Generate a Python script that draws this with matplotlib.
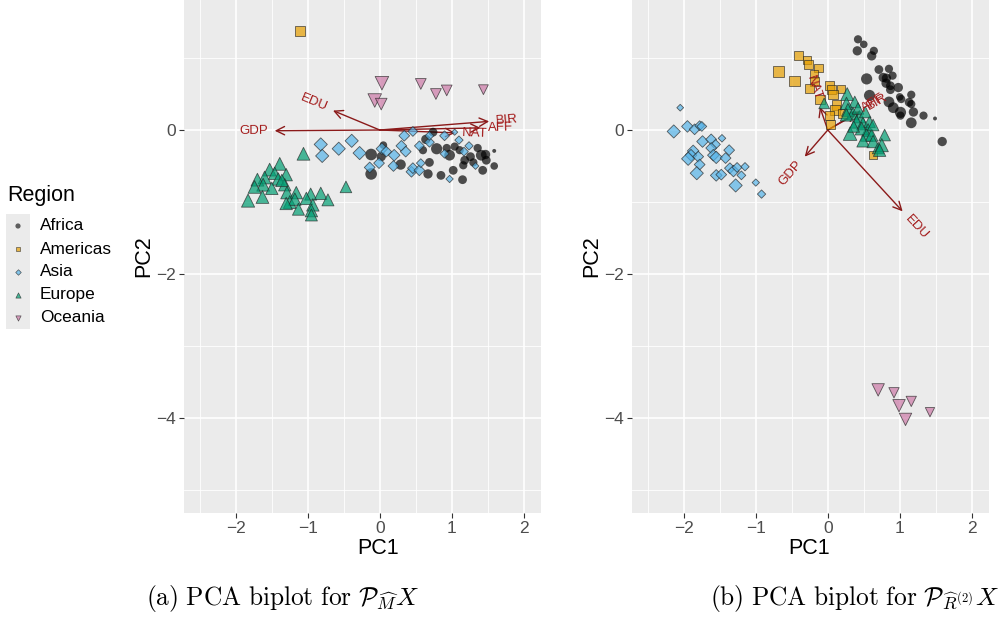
import numpy as np
import matplotlib
matplotlib.use("Agg")
import matplotlib.pyplot as plt
from matplotlib.patches import Rectangle

plt.rcParams["font.family"] = ["Liberation Sans", "DejaVu Sans"]
plt.rcParams["mathtext.fontset"] = "cm"

# ---------------------------------------------------------------- data
REGIONS = ["Africa", "Americas", "Asia", "Europe", "Oceania"]
MARKERS = ["o", "s", "D", "^", "v"]
COLORS = ["#000000", "#E69F00", "#56B4E9", "#009E73", "#CC79A7"]
VARIABLES = ["GDP", "EDU", "BIR", "AFF", "NAT"]

# panel (a): scores
a_africa_x = [-0.12, -0.12, 0.02, 0.05, 0.29, 0.60, 0.64, 0.69, 0.74, 0.79, 0.93, 0.97, 1.04, 0.67, 0.85,
              1.02, 1.11, 1.15, 1.16, 1.18, 1.26, 1.30, 1.36, 1.41, 1.43, 1.47, 1.48, 1.59, 1.59]
a_africa_y = [-0.34, -0.61, -0.37, -0.21, -0.48, -0.28, -0.13, -0.45, -0.03, -0.26, -0.25, -0.35, -0.23, -0.61, -0.63,
              -0.56, -0.28, -0.69, -0.49, -0.42, -0.37, -0.45, -0.25, -0.35, -0.56, -0.34, -0.42, -0.50, -0.29]
a_africa_s = [70, 70, 45, 30, 55, 35, 45, 40, 40, 65, 35, 60, 35, 45, 40,
              40, 35, 40, 35, 40, 40, 35, 35, 60, 40, 45, 40, 30, 8]

a_americas_x = [-1.11]
a_americas_y = [1.375]
a_americas_s = [50]

a_asia_x = [-0.82, -0.80, -0.57, -0.39, -0.28, -0.14, -0.01, 0.03, 0.09, 0.19, 0.20, 0.30, 0.34, 0.36, 0.44,
            0.46, 0.46, 0.55, 0.55, 0.57, 0.69, 0.69, 0.90, 0.90, 0.97, 1.04, 1.10, 1.17, 1.24, 1.33]
a_asia_y = [-0.20, -0.36, -0.26, -0.15, -0.32, -0.52, -0.46, -0.26, -0.30, -0.50, -0.35, -0.22, -0.08, -0.30, -0.58,
            -0.02, -0.53, -0.22, -0.56, -0.46, -0.17, -0.08, -0.08, -0.33, -0.68, -0.03, -0.14, -0.30, -0.22, -0.50]
a_asia_s = [45, 45, 45, 45, 45, 30, 30, 35, 30, 30, 35, 30, 30, 30, 30,
            25, 30, 25, 30, 20, 25, 20, 25, 20, 14, 10, 18, 20, 18, 12]

a_europe_x = [-1.06, -0.47, -1.39, -1.53, -1.46, -1.30, -1.60, -1.70, -1.41, -1.62, -1.74, -1.50, -1.32, -1.63, -1.83,
              -1.29, -1.16, -0.96, -0.82, -1.02, -0.72, -1.25, -1.18, -1.30, -0.93, -1.13, -0.95, -0.95, -1.36]
a_europe_y = [-0.33, -0.79, -0.47, -0.55, -0.60, -0.62, -0.66, -0.69, -0.68, -0.76, -0.79, -0.81, -0.76, -0.93, -0.98,
              -0.87, -0.87, -0.89, -0.88, -0.95, -0.97, -1.00, -0.96, -1.02, -1.04, -1.10, -1.12, -1.18, -0.70]
a_europe_s = [85, 70, 85, 85, 80, 80, 85, 85, 80, 85, 85, 80, 80, 85, 90,
              80, 80, 75, 80, 80, 75, 85, 80, 80, 80, 75, 80, 75, 80]

a_oceania_x = [0.03, 0.57, 0.78, 0.93, 1.44, -0.07, 0.02]
a_oceania_y = [0.65, 0.64, 0.50, 0.55, 0.56, 0.41, 0.36]
a_oceania_s = [95, 60, 60, 60, 50, 95, 70]

# panel (a): loadings
a_load_x = [-1.46, -0.65, 1.52, 1.40, 1.05]
a_load_y = [-0.01, 0.27, 0.12, 0.03, -0.04]

# panel (b): scores
b_africa_x = [0.42, 0.50, 0.41, 0.64, 0.61, 0.71, 0.85, 0.54, 0.77, 0.815, 0.90, 0.81, 0.87, 0.98, 0.87,
              1.16, 1.00, 0.58, 1.02, 1.13, 0.85, 1.16, 0.91, 1.01, 1.19, 1.01, 1.33, 1.49, 1.16, 1.59]
b_africa_y = [1.26, 1.19, 1.10, 1.10, 1.03, 0.84, 0.85, 0.71, 0.73, 0.72, 0.755, 0.65, 0.615, 0.59, 0.56,
              0.49, 0.46, 0.48, 0.43, 0.385, 0.39, 0.36, 0.31, 0.245, 0.25, 0.20, 0.20, 0.16, 0.10, -0.16]
b_africa_s = [35, 30, 45, 35, 45, 40, 35, 65, 45, 45, 35, 45, 40, 45, 40,
              35, 30, 65, 35, 40, 60, 35, 60, 65, 45, 35, 35, 8, 60, 45]

b_americas_x = [-0.41, -0.29, -0.27, -0.125, -0.69, -0.46, -0.19, -0.18, -0.25, 0.03,
                0.05, 0.18, -0.11, 0.07, 0.12, 0.10, 0.20, 0.02, 0.04, 0.63]
b_americas_y = [1.03, 0.97, 0.91, 0.86, 0.81, 0.68, 0.78, 0.67, 0.58, 0.615,
                0.56, 0.565, 0.42, 0.49, 0.35, 0.28, 0.23, 0.20, 0.08, -0.35]
b_americas_s = [42, 38, 38, 38, 62, 58, 38, 42, 42, 42,
                42, 34, 46, 46, 46, 46, 42, 46, 46, 38]

b_asia_x = [-2.05, -2.14, -1.95, -1.85, -1.78, -1.75, -1.74, -1.62, -1.47, -1.56, -1.62, -1.37, -1.87, -1.90, -1.94,
            -1.80, -1.59, -1.55, -1.42, -1.78, -1.82, -1.36, -1.31, -1.26, -1.15, -1.55, -1.48, -1.20, -1.28, -1.00, -0.92]
b_asia_y = [0.31, -0.02, 0.05, 0.01, 0.06, 0.05, -0.16, -0.13, -0.115, -0.20, -0.25, -0.28, -0.29, -0.35, -0.40,
            -0.37, -0.35, -0.38, -0.39, -0.48, -0.60, -0.53, -0.57, -0.52, -0.51, -0.63, -0.62, -0.63, -0.77, -0.73, -0.89]
b_asia_s = [12, 45, 35, 30, 25, 25, 35, 30, 15, 25, 30, 30, 35, 35, 45,
            30, 35, 40, 30, 30, 45, 30, 35, 25, 18, 35, 30, 20, 45, 14, 18]

b_europe_x = [0.27, 0.375, 0.26, -0.05, 0.28, 0.35, 0.26, 0.44, 0.40, 0.49, 0.58, 0.56, 0.47,
              0.31, 0.54, 0.61, 0.49, 0.63, 0.70, 0.79, 0.75, 0.72, 0.63, 0.42, 0.52, 0.36]
b_europe_y = [0.50, 0.39, 0.37, 0.37, 0.28, 0.23, 0.21, 0.185, 0.115, 0.09, 0.115, 0.0, 0.02,
              -0.05, -0.07, -0.07, -0.15, -0.16, -0.25, -0.07, -0.21, -0.28, 0.07, 0.30, 0.25, 0.05]
b_europe_s = [85, 70, 80, 60, 85, 80, 80, 80, 85, 85, 70, 85, 85,
              95, 80, 80, 80, 80, 70, 70, 90, 80, 70, 70, 70, 70]

b_oceania_x = [0.70, 0.92, 1.16, 0.99, 1.08, 1.42]
b_oceania_y = [-3.61, -3.65, -3.77, -3.83, -4.02, -3.92]
b_oceania_s = [80, 55, 55, 80, 80, 45]

# panel (b): loadings
b_load_x = [-0.32, 1.04, 0.46, 0.40, -0.11]
b_load_y = [-0.37, -1.13, 0.26, 0.24, 0.32]

X_TICKS = [-2, -1, 0, 1, 2]
Y_TICKS = [0, -2, -4]
X_LIM = (-2.72, 2.24)
Y_LIM = (-5.32, 1.806)

CAPTION_A = r"$\mathrm{(a)\ PCA\ biplot\ for\ }\mathcal{P}_{\widehat{M}}X$"
CAPTION_B = r"$\mathrm{(b)\ PCA\ biplot\ for\ }\mathcal{P}_{\widehat{R}^{(2)}}X$"

# ---------------------------------------------------------------- layout
W, H = 1001, 619
fig = plt.figure(figsize=(W / 100, H / 100), dpi=100)
fig.patch.set_facecolor("white")


def px_box(left, right, top, bottom):
    return [left / W, 1 - bottom / H, (right - left) / W, (bottom - top) / H]


ARROW_COL = "#8B1A1A"
LABEL_COL = "#A31A1A"
TICK_COL = "#4D4D4D"


def draw_panel(ax, scores, load_x, load_y):
    ax.set_facecolor("#EBEBEB")
    for s in ax.spines.values():
        s.set_visible(False)
    ax.set_xlim(*X_LIM)
    ax.set_ylim(*Y_LIM)
    ax.set_xticks(X_TICKS)
    ax.set_yticks(Y_TICKS)
    ax.set_xticks([-2.5, -1.5, -0.5, 0.5, 1.5], minor=True)
    ax.set_yticks([1, -1, -3, -5], minor=True)
    ax.grid(which="major", color="white", linewidth=1.2, zorder=0)
    ax.grid(which="minor", color="white", linewidth=0.6, zorder=0)
    ax.set_axisbelow(True)
    ax.tick_params(which="major", length=3.5, width=0.8, color="#333333",
                   labelsize=12.5, labelcolor=TICK_COL, pad=2)
    ax.tick_params(which="minor", length=0)

    # loadings arrows (under the points)
    for vx, vy in zip(load_x, load_y):
        ax.annotate("", xy=(vx, vy), xytext=(0, 0),
                    arrowprops=dict(arrowstyle="->,head_length=0.5,head_width=0.25",
                                    color=ARROW_COL, lw=1.0, shrinkA=0, shrinkB=0,
                                    mutation_scale=12),
                    zorder=2)

    for (xs, ys, ss), marker, col, reg in zip(scores, MARKERS, COLORS, REGIONS):
        if reg == "Africa":
            ax.scatter(xs, ys, s=ss, marker=marker, c=col, alpha=0.68,
                       edgecolors="none", zorder=3)
        else:
            ax.scatter(xs, ys, s=ss, marker=marker, c=col, alpha=0.7,
                       edgecolors="#222222", linewidths=0.6, zorder=3)

    # variable names, rotated along the arrows
    for name, vx, vy in zip(VARIABLES, load_x, load_y):
        ang = np.degrees(np.arctan(vy / vx))
        norm = np.hypot(vx, vy)
        off = 5.0
        ax.annotate(name, xy=(vx, vy), xytext=(off * vx / norm, off * vy / norm),
                    textcoords="offset points", rotation=ang, rotation_mode="anchor",
                    ha="left" if vx > 0 else "right", va="center",
                    fontsize=9.5, color=LABEL_COL, zorder=4)


ax_a = fig.add_axes(px_box(184, 541, 0, 513))
draw_panel(ax_a,
           [(a_africa_x, a_africa_y, a_africa_s),
            (a_americas_x, a_americas_y, a_americas_s),
            (a_asia_x, a_asia_y, a_asia_s),
            (a_europe_x, a_europe_y, a_europe_s),
            (a_oceania_x, a_oceania_y, a_oceania_s)],
           a_load_x, a_load_y)

ax_b = fig.add_axes(px_box(632, 989, 0, 513))
draw_panel(ax_b,
           [(b_africa_x, b_africa_y, b_africa_s),
            (b_americas_x, b_americas_y, b_americas_s),
            (b_asia_x, b_asia_y, b_asia_s),
            (b_europe_x, b_europe_y, b_europe_s),
            (b_oceania_x, b_oceania_y, b_oceania_s)],
           b_load_x, b_load_y)

# axis titles
for cx, cy in [(378, 548), (809, 548)]:
    fig.text(cx / W, 1 - cy / H, "PC1", ha="center", va="center", fontsize=15.5)
for cx, cy in [(144, 256), (592, 256)]:
    fig.text(cx / W, 1 - cy / H, "PC2", ha="center", va="center", fontsize=15.5,
             rotation=90)

# legend
ov = fig.add_axes([0, 0, 1, 1], zorder=5)
ov.set_xlim(0, W)
ov.set_ylim(H, 0)
ov.axis("off")
ov.text(7, 195, "Region", ha="left", va="center", fontsize=15.5)
ov.add_patch(Rectangle((6, 214), 24, 115, facecolor="#EBEBEB", edgecolor="none"))
key_y = [226, 249, 272, 295, 318]
key_s = [14, 10, 8, 14, 14]
for reg, marker, col, ky, ks in zip(REGIONS, MARKERS, COLORS, key_y, key_s):
    if reg == "Africa":
        ov.scatter([18], [ky], s=ks, marker=marker, c=col, alpha=0.6, edgecolors="none")
    else:
        ov.scatter([18], [ky], s=ks, marker=marker, c=col, alpha=0.7,
                   edgecolors="#222222", linewidths=0.5)
    ov.text(40, ky, reg, ha="left", va="center", fontsize=12.4)

# captions
fig.text(283 / W, 1 - 598 / H, CAPTION_A, ha="center", va="center", fontsize=18.3)
fig.text(854 / W, 1 - 598 / H, CAPTION_B, ha="center", va="center", fontsize=18.3)

fig.savefig("out.png", dpi=100)
